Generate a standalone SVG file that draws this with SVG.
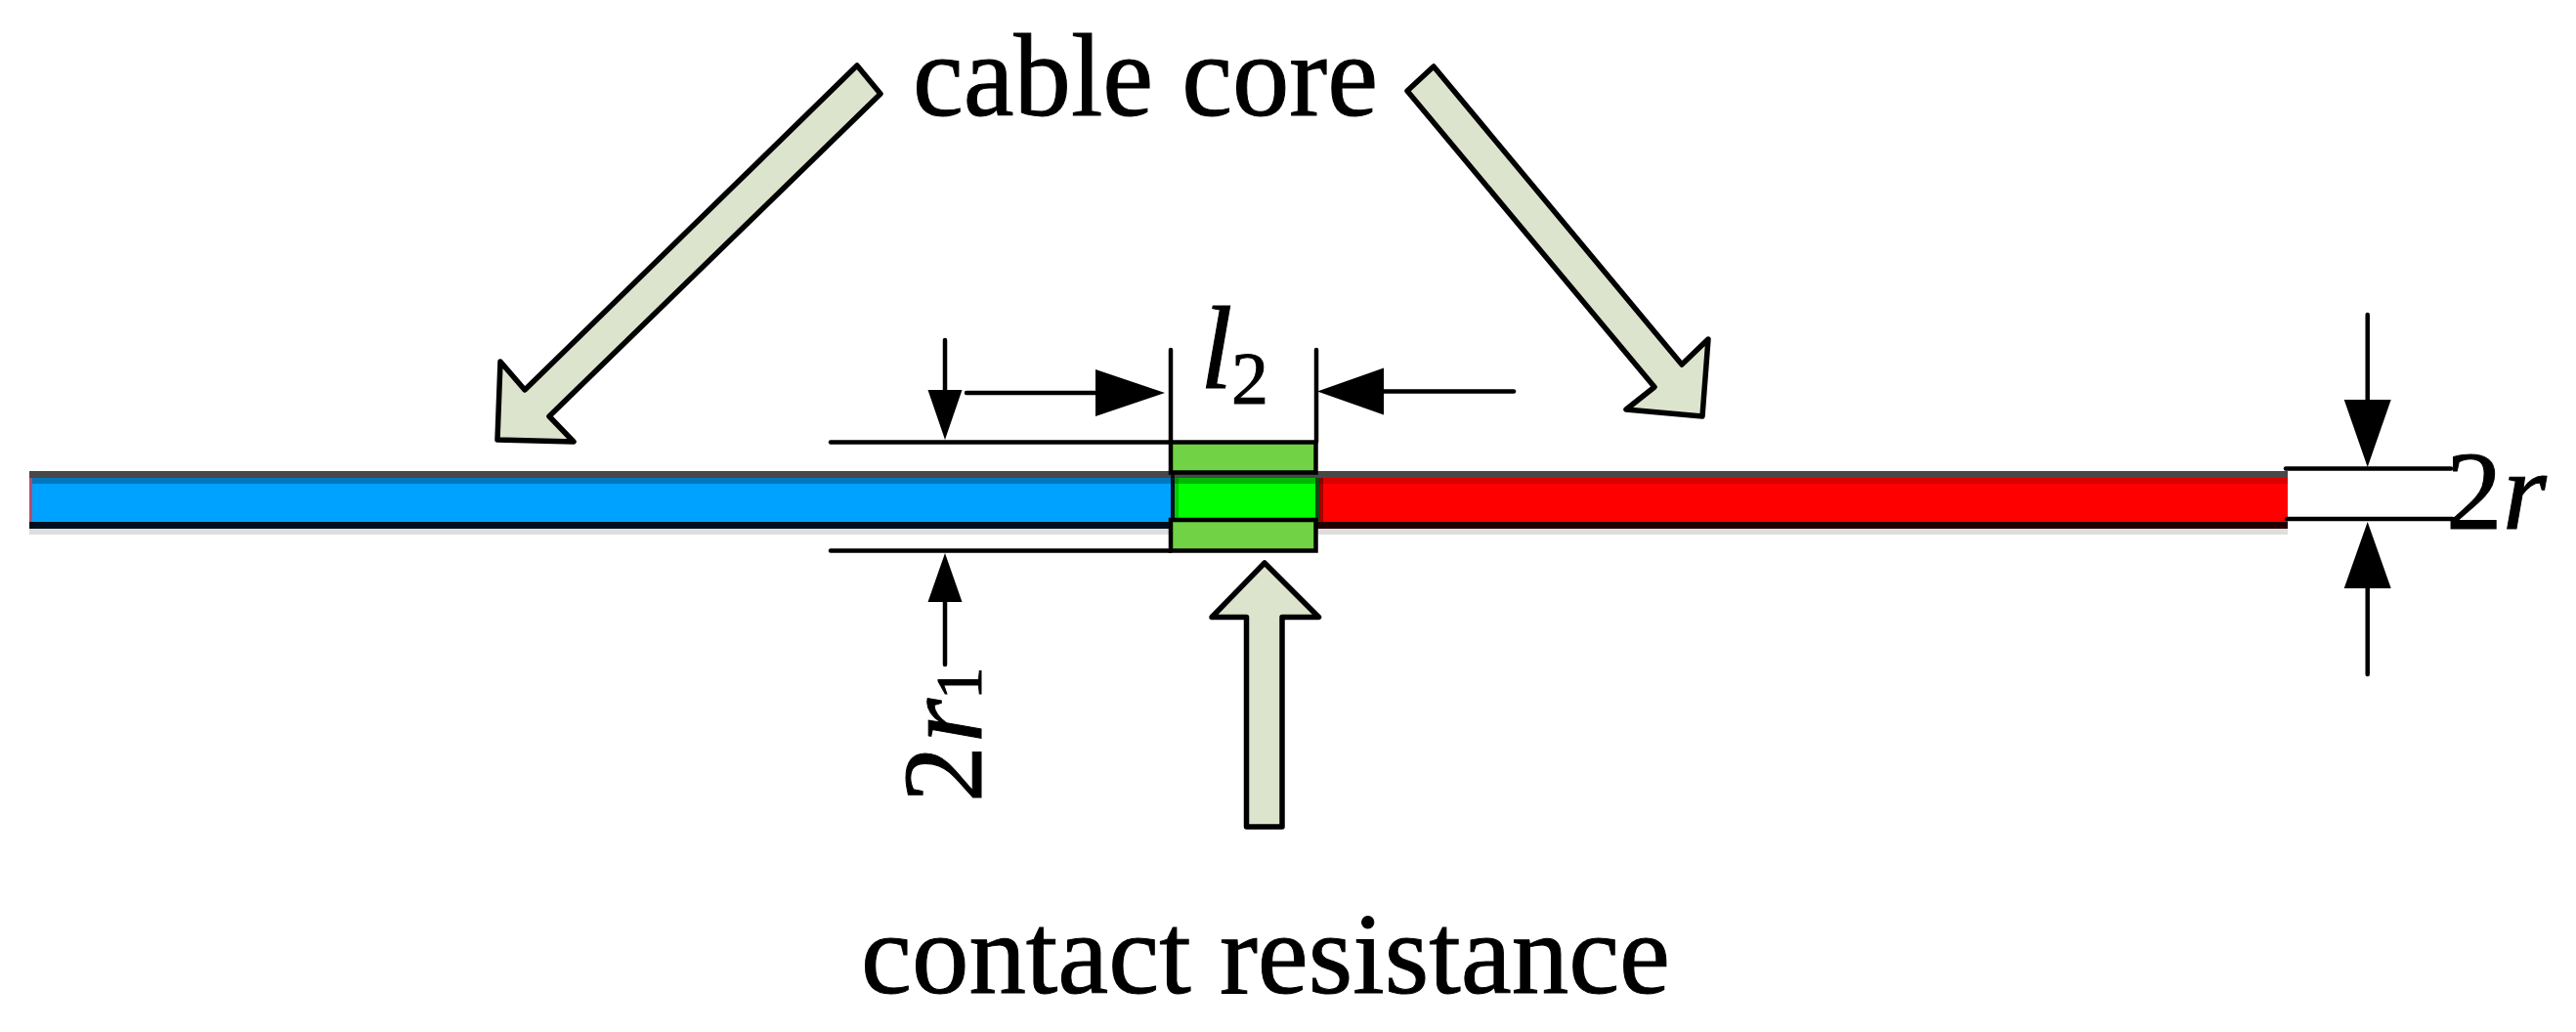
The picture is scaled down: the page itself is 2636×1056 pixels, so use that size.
<svg xmlns="http://www.w3.org/2000/svg" width="2636" height="1056" viewBox="0 0 2636 1056">
<style>
text{font-family:"Liberation Serif","Times New Roman",serif;fill:#000;stroke:#000;stroke-width:1}
.i{font-style:italic}
.big{stroke:#000;stroke-width:5.500;fill:#dce4cd;stroke-linejoin:round}
.ln{stroke:#000;stroke-width:4.500;fill:none;stroke-linecap:round}
.h{fill:#000;stroke:none}
.pad{fill:#70d244;stroke:#000;stroke-width:4.500}
</style>
<rect width="2636" height="1056" fill="#fff"/>
<g id="cable-left">
<rect x="30" y="482" width="1170" height="7" fill="#484848"/>
<rect x="30" y="489" width="1170" height="6" fill="#0277bd"/>
<rect x="30" y="495" width="1170" height="39" fill="#00a2ff"/>
<rect x="30" y="534" width="1170" height="7" fill="#000f1e"/>
<rect x="30" y="541" width="1170" height="6" fill="#dedede"/>
<rect x="30" y="489" width="3" height="45" fill="#b84a6e"/>
</g>
<g id="cable-right">
<rect x="1345" y="482" width="996" height="7" fill="#484848"/>
<rect x="1345" y="489" width="996" height="6" fill="#d90000"/>
<rect x="1345" y="495" width="996" height="39" fill="#ff0000"/>
<rect x="1345" y="534" width="996" height="7" fill="#220000"/>
<rect x="1345" y="541" width="996" height="6" fill="#dedede"/>
<rect x="1350" y="489" width="4" height="45" fill="#000" opacity=".35"/>
</g>
<g id="contact-resistance-block">
<rect x="1198" y="482" width="152" height="7" fill="#484848"/>
<rect x="1200" y="489" width="148" height="6" fill="#00b800"/>
<rect x="1200" y="495" width="148" height="38" fill="#00ff00"/>
<rect x="1202" y="489" width="4" height="44" fill="#000" opacity=".2"/>
<rect x="1198" y="485" width="4" height="49" fill="#00101c"/>
<rect x="1346" y="489" width="4" height="44" fill="#0a4a0a"/>
<rect class="pad" x="1198" y="452.500" width="148.500" height="31"/>
<rect class="pad" x="1198" y="532" width="148.500" height="31.500"/>
</g>
<g id="connectors">
<line class="ln" x1="850" y1="452.500" x2="1198" y2="452.500"/>
<line class="ln" x1="850" y1="563.500" x2="1198" y2="563.500"/>
<line class="ln" x1="1198" y1="358" x2="1198" y2="452"/>
<line class="ln" x1="1347" y1="358" x2="1347" y2="452"/>
<line class="ln" x1="989" y1="402" x2="1125" y2="402"/>
<polygon class="h" points="1192,402 1121,378 1121,426"/>
<line class="ln" x1="1549" y1="400.500" x2="1412" y2="400.500"/>
<polygon class="h" points="1348,400.500 1416,376.500 1416,424.500"/>
<line class="ln" x1="967" y1="348" x2="967" y2="402"/>
<polygon class="h" points="967,450 949.500,399 984.500,399"/>
<line class="ln" x1="967" y1="612" x2="967" y2="680"/>
<polygon class="h" points="967,566 949.500,616 984.500,616"/>
<line class="ln" x1="2339" y1="479.500" x2="2508" y2="479.500"/>
<line class="ln" x1="2340" y1="531" x2="2510" y2="531"/>
<line class="ln" x1="2422.700" y1="322" x2="2422.700" y2="412"/>
<polygon class="h" points="2422.700,478 2398.700,409 2446.700,409"/>
<line class="ln" x1="2422.700" y1="600" x2="2422.700" y2="690"/>
<polygon class="h" points="2422.700,534 2398.700,602 2446.700,602"/>
</g>
<g id="arrow-core-left"><polygon class="big" points="877,67 901,96 562,426 587,452 509,450 512,370 537,399"/></g>
<g id="arrow-core-right"><polygon class="big" points="1467,68 1440,93 1693,396 1664,419 1742,426 1748,347 1721,373"/></g>
<g id="arrow-contact"><polygon class="big" points="1294,576 1349.500,631.500 1312,631.500 1312,846 1275.500,846 1275.500,631.500 1240,631.500"/></g>
<g id="label-cable-core"><text x="934" y="118" font-size="120" textLength="476" lengthAdjust="spacingAndGlyphs">cable core</text></g>
<g id="label-contact-resistance"><text x="881" y="1016" font-size="118" textLength="828" lengthAdjust="spacingAndGlyphs">contact resistance</text></g>
<g id="label-l2"><text class="i" x="1228" y="397" font-size="120">l</text><text x="1260" y="413" font-size="76">2</text></g>
<g id="label-2r"><text x="2503" y="541" font-size="115">2</text><text class="i" x="2561" y="541" font-size="115">r</text></g>
<g id="label-2r1" transform="translate(1004,818) rotate(-90)"><text x="-3" y="0" font-size="116">2</text><text class="i" x="58" y="0" font-size="116">r</text><text x="102" y="0" font-size="67">1</text></g>
</svg>
